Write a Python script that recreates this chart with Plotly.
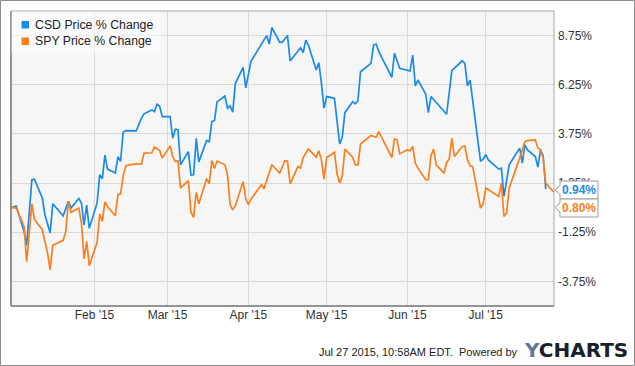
import plotly.graph_objects as go

# ---------------- data ----------------
csd_dates = ["2014-12-31","2015-01-02","2015-01-05","2015-01-06","2015-01-08","2015-01-09","2015-01-12","2015-01-13",
 "2015-01-15","2015-01-16","2015-01-20","2015-01-22","2015-01-23","2015-01-26","2015-01-27","2015-01-28","2015-01-29",
 "2015-01-30","2015-02-02","2015-02-03","2015-02-04","2015-02-05","2015-02-06","2015-02-09","2015-02-10","2015-02-11",
 "2015-02-12","2015-02-13","2015-02-17","2015-02-19","2015-02-20","2015-02-23","2015-02-24","2015-02-25","2015-02-26",
 "2015-02-27","2015-03-02","2015-03-03","2015-03-04","2015-03-05","2015-03-06","2015-03-09","2015-03-10","2015-03-11",
 "2015-03-12","2015-03-13","2015-03-16","2015-03-17","2015-03-18","2015-03-19","2015-03-20","2015-03-23","2015-03-24",
 "2015-03-25","2015-03-26","2015-03-27","2015-03-30","2015-03-31","2015-04-02","2015-04-08","2015-04-09","2015-04-10",
 "2015-04-13","2015-04-14","2015-04-16","2015-04-17","2015-04-21","2015-04-22","2015-04-23","2015-04-24","2015-04-27",
 "2015-04-28","2015-04-29","2015-04-30","2015-05-01","2015-05-04","2015-05-06","2015-05-07","2015-05-08","2015-05-11",
 "2015-05-12","2015-05-13","2015-05-14","2015-05-18","2015-05-19","2015-05-20","2015-05-21","2015-05-26","2015-05-27",
 "2015-05-29","2015-06-02","2015-06-03","2015-06-04","2015-06-05","2015-06-08","2015-06-09","2015-06-10","2015-06-12",
 "2015-06-16","2015-06-18","2015-06-22","2015-06-23","2015-06-24","2015-06-25","2015-06-29","2015-06-30","2015-07-01",
 "2015-07-02","2015-07-06","2015-07-07","2015-07-08","2015-07-10","2015-07-14","2015-07-15","2015-07-16","2015-07-17",
 "2015-07-20","2015-07-21","2015-07-22","2015-07-23","2015-07-24"]
csd_values = [0.00,0.08,-1.21,-1.92,1.42,1.45,0.49,-0.36,
 -1.29,0.20,-0.41,0.32,-0.02,0.47,0.23,-0.88,0.13,
 -1.05,0.23,1.67,1.47,2.67,1.96,1.76,2.60,2.35,
 3.84,3.92,3.90,4.55,4.77,4.97,4.88,5.26,5.14,
 4.63,4.63,3.53,3.99,3.96,2.18,2.85,1.66,1.67,
 3.52,2.33,3.42,3.35,4.38,4.43,5.38,5.68,5.06,
 5.17,4.86,6.31,7.13,6.09,7.44,8.75,8.32,9.16,
 8.42,8.41,8.75,7.46,8.13,7.88,8.52,8.27,7.00,
 7.37,6.33,5.06,5.65,5.56,3.24,3.58,4.83,5.39,
 5.28,5.44,6.91,7.34,8.27,8.32,7.93,6.63,7.85,
 7.09,6.95,7.76,6.19,6.49,5.77,4.83,5.65,5.34,
 4.75,6.97,7.47,7.34,6.19,6.49,2.35,2.47,2.69,
 2.43,1.96,2.01,0.57,2.18,3.03,2.27,3.19,2.94,
 2.60,2.06,2.94,2.64,0.94]

spy_dates = ["2014-12-31","2015-01-02","2015-01-05","2015-01-06","2015-01-08","2015-01-09","2015-01-12","2015-01-13",
 "2015-01-14","2015-01-15","2015-01-16","2015-01-20","2015-01-21","2015-01-22","2015-01-23","2015-01-26","2015-01-27",
 "2015-01-28","2015-01-29","2015-01-30","2015-02-02","2015-02-03","2015-02-04","2015-02-05","2015-02-06","2015-02-09",
 "2015-02-10","2015-02-11","2015-02-12","2015-02-13","2015-02-17","2015-02-19","2015-02-20","2015-02-23","2015-02-24",
 "2015-02-26","2015-02-27","2015-03-02","2015-03-03","2015-03-04","2015-03-05","2015-03-06","2015-03-09","2015-03-10",
 "2015-03-11","2015-03-12","2015-03-13","2015-03-16","2015-03-17","2015-03-18","2015-03-19","2015-03-20","2015-03-23",
 "2015-03-24","2015-03-25","2015-03-26","2015-03-27","2015-03-30","2015-03-31","2015-04-01","2015-04-02","2015-04-06",
 "2015-04-07","2015-04-10","2015-04-13","2015-04-15","2015-04-16","2015-04-17","2015-04-20","2015-04-21","2015-04-22",
 "2015-04-24","2015-04-27","2015-04-28","2015-04-29","2015-04-30","2015-05-01","2015-05-04","2015-05-05","2015-05-06",
 "2015-05-07","2015-05-08","2015-05-11","2015-05-12","2015-05-13","2015-05-14","2015-05-18","2015-05-20","2015-05-21",
 "2015-05-26","2015-05-27","2015-05-28","2015-05-29","2015-06-01","2015-06-02","2015-06-03","2015-06-04","2015-06-05",
 "2015-06-08","2015-06-09","2015-06-10","2015-06-11","2015-06-12","2015-06-15","2015-06-16","2015-06-17","2015-06-18",
 "2015-06-19","2015-06-22","2015-06-23","2015-06-24","2015-06-25","2015-06-26","2015-06-29","2015-06-30","2015-07-01",
 "2015-07-06","2015-07-07","2015-07-08","2015-07-09","2015-07-10","2015-07-14","2015-07-16","2015-07-17","2015-07-20",
 "2015-07-21","2015-07-22","2015-07-23","2015-07-24","2015-07-27"]
spy_values = [0.00,-0.01,-0.95,-2.75,0.20,-0.61,-1.12,-1.65,
 -2.30,-3.15,-1.91,-1.66,-1.21,0.30,-0.24,-0.02,-0.78,
 -2.60,-1.71,-2.95,-1.77,-0.32,-0.70,0.29,0.06,-0.41,
 0.66,0.70,1.62,2.13,2.24,2.20,2.77,2.79,3.08,
 2.90,2.53,3.14,2.60,2.35,2.38,0.99,1.37,-0.24,
 -0.49,0.77,0.19,1.48,1.22,2.40,1.99,2.37,2.18,
 1.67,0.15,-0.11,0.10,1.33,0.45,0.15,0.43,1.16,
 0.96,2.18,1.76,2.38,2.37,1.21,2.09,2.01,2.55,
 2.99,2.57,2.89,2.43,1.45,2.55,2.82,1.72,1.25,
 1.62,2.98,2.55,2.18,2.18,3.24,3.67,3.58,3.87,
 2.55,3.50,3.45,2.74,2.94,2.89,3.11,2.27,2.01,
 1.42,1.42,2.64,2.98,2.18,1.76,2.30,2.48,3.53,
 2.60,3.11,3.14,2.43,2.13,2.09,-0.02,0.20,1.00,
 0.57,1.25,-0.45,-0.27,1.00,2.52,3.36,3.41,3.45,
 3.03,2.94,2.52,1.25,0.80]

series_names = ["CSD Price % Change", "SPY Price % Change"]
series_colors = ["#1a8be8", "#fb7f1c"]

y_tickvals = [-3.75, -1.25, 1.25, 3.75, 6.25, 8.75]
y_ticktext = [f"{v:.2f}%" for v in y_tickvals]
x_tickvals = ["2015-02-01", "2015-03-01", "2015-04-01", "2015-05-01", "2015-06-01", "2015-07-01"]
x_ticktext = ["Feb '15", "Mar '15", "Apr '15", "May '15", "Jun '15", "Jul '15"]
footer_text = "Jul 27 2015, 10:58AM EDT.  Powered by"

# ---------------- layout helpers (pixel -> paper) ----------------
W, H = 635, 366
L, R, T, B = 11, 81, 11, 60
PW, PH = W - L - R, H - T - B
def px(x):
    return (x - L) / PW
def py(y):
    return 1 - (y - T) / PH

FONT = "Liberation Sans, Arial, sans-serif"

fig = go.Figure()
fig.add_trace(go.Scatter(x=csd_dates, y=csd_values, mode="lines", name=series_names[0],
                         line=dict(color=series_colors[0], width=1.7), showlegend=False))
fig.add_trace(go.Scatter(x=spy_dates, y=spy_values, mode="lines", name=series_names[1],
                         line=dict(color=series_colors[1], width=1.7), showlegend=False))

shapes = []
# outer border of the whole image
shapes.append(dict(type="rect", xref="paper", yref="paper", x0=px(0.5), x1=px(634.5), y0=py(365.5), y1=py(0.5),
                   line=dict(color="#8c8c8c", width=1), layer="below"))
# plot frame
shapes.append(dict(type="rect", xref="paper", yref="paper", x0=0, x1=1, y0=0, y1=1,
                   line=dict(color="#a8a8a8", width=1), layer="above"))
shapes.append(dict(type="line", xref="paper", yref="paper", x0=0, x1=0, y0=0, y1=1,
                   line=dict(color="#808080", width=1.5), layer="above"))
shapes.append(dict(type="line", xref="paper", yref="paper", x0=0, x1=1, y0=0, y1=0,
                   line=dict(color="#808080", width=1.5), layer="above"))
# legend background
shapes.append(dict(type="rect", xref="paper", yref="paper", x0=px(11.5), x1=px(160.5), y0=py(52.5), y1=py(11.5),
                   fillcolor="rgba(255,255,255,0.6)", line=dict(width=0), layer="above"))
# legend squares
shapes.append(dict(type="rect", xref="paper", yref="paper", x0=px(21.5), x1=px(29), y0=py(28.5), y1=py(21),
                   fillcolor=series_colors[0], line=dict(width=0), layer="above"))
shapes.append(dict(type="rect", xref="paper", yref="paper", x0=px(21.5), x1=px(29), y0=py(45), y1=py(37.5),
                   fillcolor=series_colors[1], line=dict(width=0), layer="above"))

# end-value callouts (box with left pointer)
def callout(ytop, ybot, ytip):
    xl, xr, xt = 560, 598, 555
    pts = [(xl, ytop), (xr, ytop), (xr, ybot), (xl, ybot), (xl, ytip + 4.5), (xt, ytip), (xl, ytip - 4.5)]
    d = "M " + " L ".join(f"{px(a):.5f},{py(b):.5f}" for a, b in pts) + " Z"
    return dict(type="path", xref="paper", yref="paper", path=d, fillcolor="white",
                line=dict(color="#9a9a9a", width=1), layer="above")
shapes.append(callout(181, 199, 190))
shapes.append(callout(199, 217, 207.5))

annotations = []
annotations.append(dict(xref="paper", yref="paper", x=px(33), y=py(24.5), xanchor="left", yanchor="middle",
                        text=series_names[0], showarrow=False, font=dict(family=FONT, size=12.3, color="#222")))
annotations.append(dict(xref="paper", yref="paper", x=px(33), y=py(41), xanchor="left", yanchor="middle",
                        text=series_names[1], showarrow=False, font=dict(family=FONT, size=12.3, color="#222")))
annotations.append(dict(xref="paper", yref="paper", x=px(579), y=py(190), xanchor="center", yanchor="middle",
                        text=f"<b>{csd_values[-1]:.2f}%</b>", showarrow=False,
                        font=dict(family=FONT, size=12, color=series_colors[0])))
annotations.append(dict(xref="paper", yref="paper", x=px(579), y=py(208), xanchor="center", yanchor="middle",
                        text=f"<b>{spy_values[-1]:.2f}%</b>", showarrow=False,
                        font=dict(family=FONT, size=12, color=series_colors[1])))
annotations.append(dict(xref="paper", yref="paper", x=px(520), y=py(352), xanchor="right", yanchor="middle",
                        text=footer_text, showarrow=False, font=dict(family=FONT, size=11, color="#222")))
annotations.append(dict(xref="paper", yref="paper", x=px(522), y=py(350), xanchor="left", yanchor="middle",
                        text="<b><span style='color:#5d7598'>Y</span>CHARTS</b>", showarrow=False,
                        font=dict(family="DejaVu Sans, sans-serif", size=20, color="#18202c")))

fig.update_layout(
    width=W, height=H,
    margin=dict(l=L, r=R, t=T, b=B, pad=0),
    paper_bgcolor="white",
    plot_bgcolor="#f6f6f6",
    font=dict(family=FONT, size=12, color="#333"),
    showlegend=False,
    shapes=shapes,
    annotations=annotations,
    xaxis=dict(type="date", range=["2014-12-31", "2015-07-27 04:00"],
               tickvals=x_tickvals, ticktext=x_ticktext, showgrid=True, gridcolor="#d8d8d8", gridwidth=1,
               zeroline=False, showline=False, ticks="", tickfont=dict(family=FONT, size=12, color="#333")),
    yaxis=dict(side="right", range=[-5, 10], tickvals=y_tickvals, ticktext=y_ticktext,
               showgrid=True, gridcolor="#d8d8d8", gridwidth=1, zeroline=False, showline=False,
               ticks="", ticklabelstandoff=3, tickfont=dict(family=FONT, size=12, color="#333")),
)

fig.write_html("out.html", config={"displayModeBar": False},
               post_script="document.body.style.margin='0px';document.body.style.overflow='hidden';")
